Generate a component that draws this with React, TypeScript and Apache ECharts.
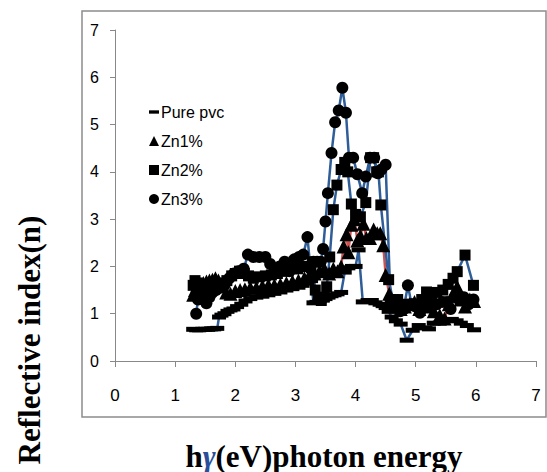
import React, { useEffect, useRef } from "react";
import * as echarts from "echarts";

const xTicks = [0, 1, 2, 3, 4, 5, 6, 7];
const yTicks = [0, 1, 2, 3, 4, 5, 6, 7];

const seriesNames = ["Pure pvc", "Zn1%", "Zn2%", "Zn3%"];

const purePvc: [number, number][] = [
  [1.30,0.67],[1.35,0.66],[1.40,0.66],[1.45,0.67],[1.50,0.67],[1.55,0.67],[1.60,0.68],[1.65,0.68],[1.70,0.69],
  [1.73,0.93],[1.77,0.97],[1.82,1.0],[1.87,1.05],[1.92,1.08],[1.97,1.1],[2.03,1.15],[2.1,1.2],[2.17,1.27],
  [2.25,1.32],[2.35,1.35],[2.45,1.37],[2.55,1.4],[2.65,1.43],[2.75,1.46],[2.85,1.5],[2.95,1.53],[3.05,1.56],
  [3.12,1.6],[3.2,1.65],[3.26,1.7],[3.3,1.23],[3.35,1.24],[3.4,1.27],[3.45,1.3],[3.5,1.32],[3.55,1.35],
  [3.6,1.38],[3.65,1.4],[3.7,1.42],[3.76,1.45],[3.82,1.88],[3.88,1.97],[3.94,2.0],[4.0,2.0],[4.05,2.35],
  [4.12,1.25],[4.2,1.28],[4.27,1.28],[4.33,1.23],[4.4,1.2],[4.45,1.17],[4.5,1.13],[4.55,1.05],[4.6,0.93],
  [4.67,0.85],[4.75,0.78],[4.85,0.44],[4.95,0.65],[5.05,0.75],[5.15,0.7],[5.22,0.68],[5.3,0.8],[5.4,0.8],
  [5.5,0.87],[5.6,0.88],[5.68,0.85],[5.75,0.8],[5.85,0.75],[5.97,0.66]
];

const zn1: [number, number][] = [
  [1.30,1.4],[1.33,1.5],[1.37,1.6],[1.42,1.62],[1.47,1.65],[1.52,1.68],[1.57,1.7],[1.62,1.72],[1.67,1.75],
  [1.72,1.7],[1.78,1.6],[1.85,1.45],[1.92,1.42],[2.0,1.48],[2.08,1.5],[2.16,1.52],[2.25,1.55],[2.35,1.55],
  [2.45,1.58],[2.55,1.6],[2.65,1.6],[2.75,1.62],[2.85,1.65],[2.95,1.68],[3.05,1.7],[3.15,1.75],[3.25,1.85],
  [3.32,1.85],[3.4,1.9],[3.48,1.95],[3.56,1.85],[3.63,1.95],[3.7,1.9],[3.76,2.0],[3.8,2.42],[3.85,2.68],
  [3.88,2.3],[3.93,2.88],[3.98,3.0],[4.03,2.55],[4.08,2.65],[4.13,2.9],[4.18,2.6],[4.24,2.6],[4.3,2.78],
  [4.36,2.7],[4.41,2.7],[4.46,2.45],[4.5,1.82],[4.56,1.42],[4.62,1.25],[4.68,1.15],[4.75,1.1],[4.82,1.15],
  [4.9,1.2],[4.98,1.25],[5.06,1.1],[5.14,1.2],[5.22,1.15],[5.3,1.05],[5.4,0.97],[5.48,0.9],[5.55,1.2],
  [5.63,1.45],[5.69,1.57],[5.75,1.3],[5.82,1.15],[5.9,1.3],[5.97,1.27]
];

const zn2: [number, number][] = [
  [1.30,1.6],[1.33,1.7],[1.37,1.65],[1.42,1.55],[1.47,1.5],[1.52,1.55],[1.57,1.6],[1.63,1.58],[1.7,1.65],
  [1.78,1.6],[1.86,1.7],[1.94,1.8],[2.0,1.85],[2.07,1.9],[2.15,1.85],[2.22,1.8],[2.3,1.75],[2.4,1.78],
  [2.5,1.8],[2.6,1.82],[2.7,1.85],[2.8,1.9],[2.88,1.9],[2.96,1.95],[3.04,1.95],[3.12,2.0],[3.2,2.0],
  [3.28,2.1],[3.33,1.5],[3.38,1.3],[3.43,1.28],[3.48,1.35],[3.52,1.57],[3.57,2.2],[3.63,3.2],[3.69,3.72],
  [3.76,4.05],[3.82,4.2],[3.87,4.0],[3.93,3.32],[4.0,3.1],[4.08,3.05],[4.17,3.35],[4.25,4.3],[4.3,4.3],
  [4.35,4.0],[4.38,4.0],[4.42,3.3],[4.55,1.72],[4.62,1.3],[4.7,1.3],[4.78,1.15],[4.86,1.2],[4.94,1.2],
  [5.02,1.2],[5.1,1.3],[5.18,1.46],[5.26,1.3],[5.35,1.45],[5.45,1.5],[5.54,1.62],[5.62,1.75],[5.69,1.89],
  [5.82,2.24],[5.96,1.6]
];

const zn3: [number, number][] = [
  [1.35,1.0],[1.38,1.3],[1.42,1.45],[1.47,1.3],[1.52,1.22],[1.57,1.35],[1.62,1.45],[1.68,1.5],[1.75,1.55],
  [1.82,1.6],[1.9,1.75],[1.98,1.85],[2.06,1.9],[2.14,1.95],[2.21,2.25],[2.3,2.2],[2.4,2.2],[2.5,2.2],
  [2.58,2.05],[2.66,1.95],[2.74,2.0],[2.82,2.1],[2.9,1.9],[2.98,2.15],[3.06,2.2],[3.13,2.25],[3.2,2.62],
  [3.25,1.95],[3.3,2.1],[3.36,2.1],[3.42,2.1],[3.46,2.37],[3.5,2.95],[3.54,3.55],[3.6,4.4],[3.66,5.05],
  [3.72,5.3],[3.78,5.78],[3.84,5.25],[3.89,4.3],[3.96,4.3],[4.03,3.95],[4.11,3.55],[4.17,3.9],[4.24,4.3],
  [4.31,4.3],[4.37,3.97],[4.43,4.05],[4.5,4.15],[4.58,1.3],[4.66,1.15],[4.74,1.05],[4.8,1.1],[4.87,1.6],
  [4.93,1.2],[5.0,1.15],[5.07,1.02],[5.15,1.25],[5.25,1.35],[5.35,1.2],[5.45,1.25],[5.52,1.25],[5.58,1.1],
  [5.65,1.35],[5.72,1.3],[5.8,1.35],[5.88,1.2],[5.96,1.3]
];

const BLUE = "#2f5d98";
const RED = "#cf5250";
const AXIS = "#888888";
const NARROW = '"Liberation Sans Narrow", "Arial Narrow", "Liberation Sans", sans-serif';
const SERIF = '"Liberation Serif", "Times New Roman", serif';
const DASH = "path://M0,0H12V4H0Z";

export default function App() {
  const ref = useRef<HTMLDivElement>(null);
  useEffect(() => {
    document.body.style.margin = "0";
    if (!ref.current) return;
    const chart = echarts.init(ref.current, null, { renderer: "svg" });
    const mk = (
      name: string,
      data: [number, number][],
      symbol: string,
      size: number | number[],
      color: string
    ) => ({
      name,
      type: "line",
      data,
      symbol,
      symbolSize: size,
      showAllSymbol: true,
      itemStyle: { color: "#000" },
      lineStyle: { color, width: 2.5 },
      emphasis: { disabled: true },
    });
    chart.setOption({
      animation: false,
      grid: { left: 115, top: 30, right: 11, bottom: 111 },
      legend: {
        orient: "vertical",
        left: 144,
        top: 97,
        itemWidth: 10,
        itemHeight: 10,
        itemGap: 9,
        selectedMode: false,
        textStyle: { fontFamily: NARROW, fontSize: 16, color: "#000", lineHeight: 20, padding: [0, 0, 0, -3] },
        data: [
          { name: seriesNames[0], icon: DASH },
          { name: seriesNames[1], icon: "triangle" },
          { name: seriesNames[2], icon: "rect" },
          { name: seriesNames[3], icon: "circle" },
        ],
      },
      xAxis: {
        type: "value",
        min: xTicks[0],
        max: xTicks[xTicks.length - 1],
        interval: 1,
        axisLine: { lineStyle: { color: AXIS, width: 1 } },
        axisTick: { show: true, length: 6, lineStyle: { color: AXIS } },
        axisLabel: { fontFamily: NARROW, fontSize: 17, color: "#000", margin: 26 },
        splitLine: { show: false },
      },
      yAxis: {
        type: "value",
        min: yTicks[0],
        max: yTicks[yTicks.length - 1],
        interval: 1,
        axisLine: { show: true, lineStyle: { color: AXIS, width: 1 } },
        axisTick: { show: true, length: 5, lineStyle: { color: AXIS } },
        axisLabel: { fontFamily: NARROW, fontSize: 16, color: "#000", margin: 16 },
        splitLine: { show: false },
      },
      graphic: [
        {
          type: "rect",
          shape: { x: 82, y: 11, width: 464, height: 406 },
          style: { fill: "none", stroke: "#8c8c8c", lineWidth: 1.5 },
          silent: true,
        },
        {
          type: "text",
          x: 29,
          y: 340,
          rotation: Math.PI / 2,
          style: {
            text: "Reflective index(n)",
            fontFamily: SERIF,
            fontWeight: "bold",
            fontSize: 31,
            fill: "#000",
            textAlign: "center",
            textVerticalAlign: "middle",
          },
        },
        {
          type: "text",
          x: 324,
          y: 456,
          style: {
            text: "{a|h}{g|γ}{a|(eV)photon energy}",
            textAlign: "center",
            textVerticalAlign: "middle",
            rich: {
              a: { fontFamily: SERIF, fontWeight: "bold", fontSize: 31, fill: "#000" },
              g: { fontFamily: SERIF, fontWeight: "bold", fontStyle: "italic", fontSize: 31, fill: "#2a4f9a" },
            },
          },
        },
      ],
      series: [
        mk(seriesNames[0], purePvc, DASH, [14, 5], BLUE),
        mk(seriesNames[1], zn1, "triangle", 14, RED),
        mk(seriesNames[2], zn2, "rect", 11, BLUE),
        mk(seriesNames[3], zn3, "circle", 12, BLUE),
      ],
    });
    return () => chart.dispose();
  }, []);
  return <div ref={ref} style={{ width: 547, height: 472 }} />;
}
